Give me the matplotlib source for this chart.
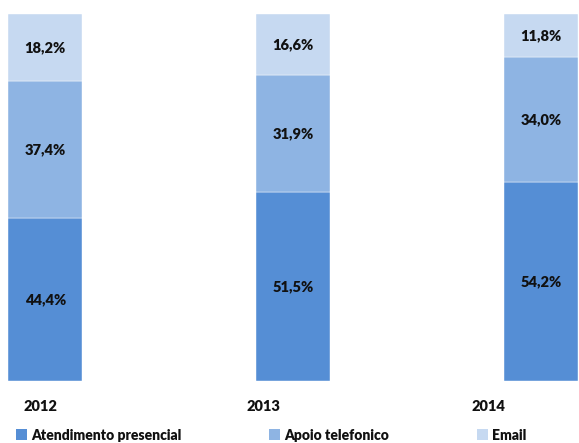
import matplotlib.pyplot as plt
from matplotlib.patches import Patch

# data (percent of contacts per channel)
years = ['2012', '2013', '2014']
presencial = [44.4, 51.5, 54.2]
telefonico = [37.4, 31.9, 34.0]
email = [18.2, 16.6, 11.8]
series_names = ['Atendimento presencial', 'Apoio telefonico', 'Email']
colors = ['#558ED5', '#8EB4E3', '#C6D9F1']

plt.rcParams['font.family'] = ['Lato', 'DejaVu Sans']
fsize = 10.5
fweight = 'heavy'

fig = plt.figure(figsize=(5.79, 4.43), dpi=100)
ax = fig.add_axes([8 / 579, 1 - 381 / 443, 570 / 579, 367 / 443])

pos = list(range(len(years)))
width = 0.3
bottom = [0, 0, 0]
for vals, col in zip([presencial, telefonico, email], colors):
    bars = ax.bar(pos, vals, width, bottom=bottom, color=col,
                  edgecolor='white', linewidth=0.3)
    for b, v, base in zip(bars, vals, bottom):
        ax.text(b.get_x() + b.get_width() / 2, base + v / 2,
                ('%.1f%%' % v).replace('.', ','),
                ha='center', va='center', fontsize=fsize, fontweight=fweight,
                color='#111111')
    bottom = [a + b for a, b in zip(bottom, vals)]

ax.set_xlim(-width / 2, 2 + width / 2)
ax.set_ylim(0, 100)

# year labels sit a little left of the bars in the original
ax.set_xticks([-0.02, 0.88, 1.79])
ax.set_xticklabels(years, fontsize=fsize, fontweight=fweight, color='#111111')
ax.tick_params(axis='x', length=0, pad=14)
ax.set_yticks([])
for s in ax.spines.values():
    s.set_visible(False)

handles = [Patch(facecolor=c, edgecolor='none') for c in colors]
fig.legend(handles, series_names, loc='center left', ncol=3,
           bbox_to_anchor=(16 / 579, 1 - 435 / 443), frameon=False,
           borderpad=0, borderaxespad=0, handlelength=0.8, handleheight=0.8,
           handletextpad=0.3, columnspacing=6.3,
           labelcolor='#111111',
           prop={'size': 10, 'weight': fweight})

fig.savefig('out.png', dpi=100)
